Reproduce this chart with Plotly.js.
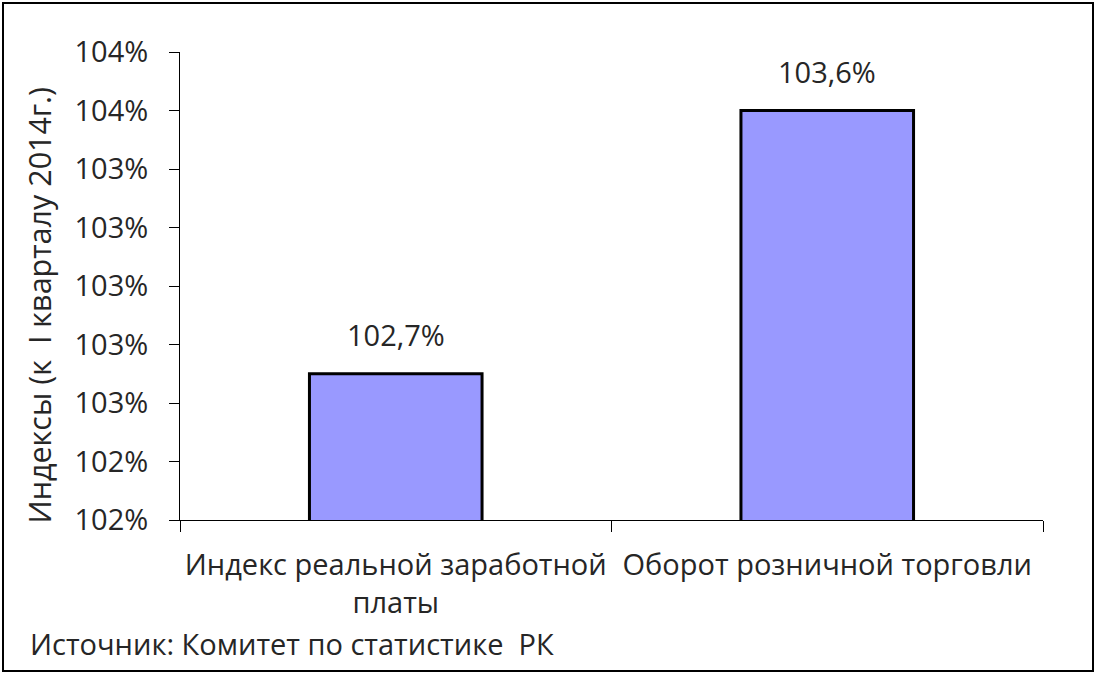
<!DOCTYPE html>
<html>
<head>
<meta charset="utf-8">
<script src="https://cdn.plot.ly/plotly-3.0.1.min.js"></script>
<style>
html,body{margin:0;padding:0;background:#fff;}
#wrap{position:relative;width:1096px;height:674px;}
#chart{position:absolute;left:0;top:0;width:1096px;height:674px;}
#frame{position:absolute;left:2px;top:2px;width:1088px;height:666px;border:2px solid #000;pointer-events:none;}
</style>
</head>
<body>
<div id="wrap"><div id="chart"></div><div id="frame"></div></div>
<script>
const categories = ["Индекс реальной заработной<br>платы", "Оборот розничной торговли"];
const values = [102.7, 103.6];
const yAxisTitle = "Индексы (к  I кварталу 2014г.)";
const sourceText = "Источник: Комитет по статистике  РК";
const yRange = [102.2, 103.8];
const yStep = 0.2;

const FONT = '"Open Sans", "Noto Sans", sans-serif';
const TXT = '#262626';
const FS = 29;

const trace = {
  type: 'bar',
  x: categories,
  y: values,
  width: 0.4,
  marker: {color: '#9999FF', line: {color: '#000000', width: 3}},
  hoverinfo: 'none'
};

const labelAnnotations = categories.map((c, i) => ({
  x: c, y: values[i], xref: 'x', yref: 'y',
  text: values[i].toFixed(1).replace('.', ',') + '%',
  showarrow: false, yshift: 39,
  font: {family: FONT, size: FS, color: TXT}
}));

const layout = {
  width: 1096, height: 674,
  margin: {l: 180, r: 53, t: 52, b: 154},
  paper_bgcolor: '#ffffff', plot_bgcolor: '#ffffff',
  showlegend: false,
  font: {family: FONT, size: FS, color: TXT},
  xaxis: {
    type: 'category',
    showline: true, linecolor: '#000', linewidth: 1,
    ticks: 'outside', tickson: 'boundaries', ticklen: 11, tickcolor: '#000', tickwidth: 1,
    showgrid: false, zeroline: false,
    tickfont: {family: FONT, size: FS, color: TXT},
    ticklabelstandoff: 19
  },
  yaxis: {
    range: yRange, tick0: yRange[0], dtick: yStep,
    tickformat: '.0f', ticksuffix: '%',
    showline: true, linecolor: '#000', linewidth: 1,
    ticks: 'outside', ticklen: 10, tickcolor: '#000', tickwidth: 1,
    showgrid: false, zeroline: false,
    tickfont: {family: FONT, size: FS, color: TXT},
    ticklabelstandoff: 15
  },
  annotations: labelAnnotations.concat([{
    xref: 'paper', yref: 'paper', x: -0.163, y: 0.459,
    xanchor: 'center', yanchor: 'middle', textangle: -90,
    text: yAxisTitle, showarrow: false,
    font: {family: FONT, size: 30.5, color: TXT}
  }, {
    xref: 'paper', yref: 'paper', x: -0.1765, y: -0.263,
    xanchor: 'left', yanchor: 'middle',
    text: sourceText, showarrow: false,
    font: {family: FONT, size: FS, color: TXT}
  }])
};

Plotly.newPlot('chart', [trace], layout, {staticPlot: true, displayModeBar: false});
</script>
</body>
</html>
